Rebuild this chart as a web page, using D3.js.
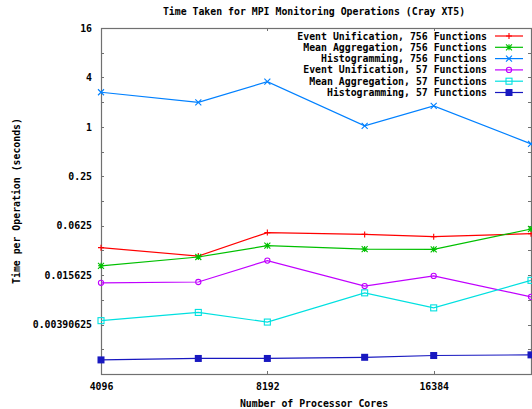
<!DOCTYPE html>
<html>
<head>
<meta charset="utf-8">
<script src="https://cdn.jsdelivr.net/npm/d3@7"></script>
<style>
  html, body { margin: 0; padding: 0; background: #fff; }
  svg { display: block; }
  text { font-family: "DejaVu Sans Mono", "Liberation Mono", monospace; font-weight: bold; font-size: 9.85px; fill: #000; }
</style>
</head>
<body>
<script>
// Processor core counts (x) and per-operation timings in seconds
const cores = [4096, 6144, 8192, 12288, 16384, 24576];

const eventUnif756 = [0.0338, 0.0267, 0.0515, 0.0490, 0.0460, 0.0500];
const meanAggr756  = [0.0203, 0.0260, 0.0357, 0.0325, 0.0322, 0.0570];
const histo756     = [2.64, 1.99, 3.55, 1.03, 1.80, 0.62];
const eventUnif57  = [0.0126, 0.0129, 0.0235, 0.0115, 0.0153, 0.0085];
const meanAggr57   = [0.00436, 0.00549, 0.00419, 0.00951, 0.00624, 0.0135];
const histo57      = [0.00145, 0.00151, 0.00151, 0.00156, 0.00164, 0.00167];

const seriesNames = [
  "Event Unification, 756 Functions",
  "Mean Aggregation, 756 Functions",
  "Histogramming, 756 Functions",
  "Event Unification, 57 Functions",
  "Mean Aggregation, 57 Functions",
  "Histogramming, 57 Functions"
];

const xTickValues = [4096, 8192, 16384];
const xTickLabels = ["4096", "8192", "16384"];
const yTickValues = [16, 4, 1, 0.25, 0.0625, 0.015625, 0.00390625];
const yTickLabels = ["16", "4", "1", "0.25", "0.0625", "0.015625", "0.00390625"];
const yMinorValues = [8, 2, 0.5, 0.125, 0.03125, 0.0078125, 0.001953125];

const series = [
  { name: seriesNames[0], values: eventUnif756, color: "#ff0000", marker: "plus" },
  { name: seriesNames[1], values: meanAggr756,  color: "#00c000", marker: "star" },
  { name: seriesNames[2], values: histo756,     color: "#0080ff", marker: "cross" },
  { name: seriesNames[3], values: eventUnif57,  color: "#c000ff", marker: "circle" },
  { name: seriesNames[4], values: meanAggr57,   color: "#00e0e0", marker: "square" },
  { name: seriesNames[5], values: histo57,      color: "#1818c0", marker: "fsquare" }
];

const W = 532, H = 409;
const plotLeft = 101, plotRight = 531, plotTop = 28, plotBottom = 374;

const svg = d3.select("body").append("svg").attr("width", W).attr("height", H);

const x = d3.scaleLog().base(2).domain([4096, 24576]).range([plotLeft, plotRight]);
const y = d3.scaleLog().base(2).domain([Math.pow(2, -10), 16]).range([plotBottom, plotTop]);

const axisColor = "#707070";

function styleAxis(g) {
  g.select(".domain").remove();
  g.selectAll(".tick line").attr("stroke", axisColor).attr("shape-rendering", "crispEdges");
  g.selectAll("text").attr("fill", "#000");
  g.attr("font-size", null).attr("font-family", null);
}

// Left axis: labelled major ticks + minor ticks
svg.append("g").attr("transform", `translate(${plotLeft},0)`)
  .call(d3.axisLeft(y).tickValues(yTickValues)
    .tickFormat((d, i) => yTickLabels[i]).tickSize(-3).tickPadding(9))
  .call(styleAxis);
svg.append("g").attr("transform", `translate(${plotLeft},0)`)
  .call(d3.axisLeft(y).tickValues(yMinorValues).tickFormat("").tickSize(-3))
  .call(styleAxis);

// Right axis (mirrored ticks)
svg.append("g").attr("transform", `translate(${plotRight},0)`)
  .call(d3.axisRight(y).tickValues(yTickValues.concat(yMinorValues)).tickFormat("").tickSize(-3))
  .call(styleAxis);

// Bottom axis
svg.append("g").attr("transform", `translate(0,${plotBottom})`)
  .call(d3.axisBottom(x).tickValues(xTickValues)
    .tickFormat((d, i) => xTickLabels[i]).tickSize(-3).tickPadding(9))
  .call(styleAxis);

// Top axis (mirrored ticks)
svg.append("g").attr("transform", `translate(0,${plotTop})`)
  .call(d3.axisTop(x).tickValues(xTickValues).tickFormat("").tickSize(-3))
  .call(styleAxis);

// Plot frame
svg.append("rect")
  .attr("x", plotLeft + 0.5).attr("y", plotTop + 0.5)
  .attr("width", plotRight - plotLeft).attr("height", plotBottom - plotTop)
  .attr("fill", "none").attr("stroke", axisColor).attr("stroke-width", 1.2);

// Titles
svg.append("text").attr("x", 314).attr("y", 14.5).attr("text-anchor", "middle")
  .text("Time Taken for MPI Monitoring Operations (Cray XT5)");
svg.append("text").attr("x", 314).attr("y", 406.5).attr("text-anchor", "middle")
  .text("Number of Processor Cores");
svg.append("text").attr("transform", "translate(20,201) rotate(-90)")
  .attr("text-anchor", "middle")
  .text("Time per Operation (seconds)");

// Marker shapes
function drawMarker(g, type, cx, cy, color) {
  const s = 3;
  if (type === "plus") {
    g.append("path").attr("d", `M${cx - s},${cy}H${cx + s}M${cx},${cy - s}V${cy + s}`)
      .attr("stroke", color).attr("stroke-width", 1.1).attr("fill", "none");
  } else if (type === "cross") {
    g.append("path").attr("d", `M${cx - s},${cy - s}L${cx + s},${cy + s}M${cx - s},${cy + s}L${cx + s},${cy - s}`)
      .attr("stroke", color).attr("stroke-width", 1.1).attr("fill", "none");
  } else if (type === "star") {
    g.append("path").attr("d", `M${cx - s},${cy}H${cx + s}M${cx},${cy - s}V${cy + s}M${cx - s},${cy - s}L${cx + s},${cy + s}M${cx - s},${cy + s}L${cx + s},${cy - s}`)
      .attr("stroke", color).attr("stroke-width", 1.1).attr("fill", "none");
  } else if (type === "circle") {
    g.append("circle").attr("cx", cx).attr("cy", cy).attr("r", 2.6)
      .attr("stroke", color).attr("stroke-width", 1.1).attr("fill", "none");
  } else if (type === "square") {
    g.append("rect").attr("x", cx - s).attr("y", cy - s).attr("width", 2 * s).attr("height", 2 * s)
      .attr("stroke", color).attr("stroke-width", 1.1).attr("fill", "none");
  } else if (type === "fsquare") {
    g.append("rect").attr("x", cx - 3.5).attr("y", cy - 3.5).attr("width", 7).attr("height", 7)
      .attr("fill", color);
  }
}

const line = d3.line().x((d, i) => x(cores[i])).y(d => y(d));

// Series lines and point markers
series.forEach(s => {
  const g = svg.append("g");
  g.append("path").datum(s.values).attr("d", line)
    .attr("fill", "none").attr("stroke", s.color).attr("stroke-width", 1.2);
  s.values.forEach((v, i) => drawMarker(g, s.marker, x(cores[i]), y(v), s.color));
});

// Legend
const legendY0 = 36, legendDy = 11.3;
series.forEach((s, i) => {
  const ly = legendY0 + i * legendDy;
  const g = svg.append("g");
  g.append("text").attr("x", 487).attr("y", ly + 3.5).attr("text-anchor", "end").text(s.name);
  g.append("line").attr("x1", 495).attr("x2", 523).attr("y1", ly).attr("y2", ly)
    .attr("stroke", s.color).attr("stroke-width", 1.2);
  drawMarker(g, s.marker, 509, ly, s.color);
});
</script>
</body>
</html>
